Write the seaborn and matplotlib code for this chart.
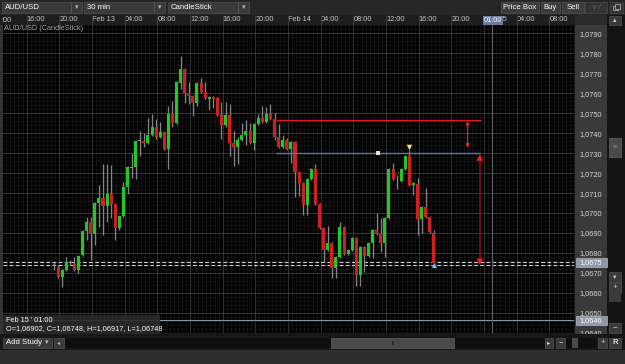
import numpy as np
import pandas as pd
import matplotlib
matplotlib.use("Agg")
import matplotlib.pyplot as plt
import seaborn as sns
from matplotlib.patches import Rectangle

# ---------------- data (AUD/USD, 30 min candles) ----------------
opens = [1.06740, 1.06730, 1.06680, 1.06715, 1.06750, 1.06745, 1.06715, 1.06790, 1.06910, 1.06955,
         1.06895, 1.07050, 1.07075, 1.07035, 1.07095, 1.07045, 1.06925, 1.06985, 1.07130, 1.07230,
         1.07230, 1.07361, 1.07361, 1.07351, 1.07391, 1.07431, 1.07381, 1.07406, 1.07321, 1.07496,
         1.07451, 1.07651, 1.07721, 1.07601, 1.07586, 1.07551, 1.07651, 1.07606, 1.07571, 1.07581,
         1.07576, 1.07491, 1.07441, 1.07491, 1.07351, 1.07331, 1.07366, 1.07391, 1.07411, 1.07351,
         1.07446, 1.07476, 1.07456, 1.07496, 1.07471, 1.07381, 1.07331, 1.07366, 1.07321, 1.07356,
         1.07205, 1.07150, 1.07040, 1.07170, 1.07220, 1.07045, 1.06925, 1.06815, 1.06850, 1.06725,
         1.06780, 1.06930, 1.06795, 1.06815, 1.06875, 1.06690, 1.06830, 1.06785, 1.06850, 1.06915,
         1.06895, 1.06850, 1.06975, 1.07220, 1.07165, 1.07160, 1.07220, 1.07285, 1.07140, 1.07145,
         1.06970, 1.07030, 1.06980, 1.06902]
closes = [1.06738, 1.06680, 1.06715, 1.06755, 1.06750, 1.06715, 1.06785, 1.06910, 1.06955, 1.06895,
          1.07050, 1.07075, 1.07035, 1.07095, 1.07045, 1.06925, 1.06985, 1.07130, 1.07230, 1.07228,
          1.07361, 1.07361, 1.07351, 1.07391, 1.07431, 1.07381, 1.07406, 1.07321, 1.07496, 1.07451,
          1.07656, 1.07721, 1.07601, 1.07586, 1.07551, 1.07651, 1.07606, 1.07576, 1.07581, 1.07571,
          1.07491, 1.07441, 1.07491, 1.07351, 1.07331, 1.07366, 1.07391, 1.07411, 1.07351, 1.07446,
          1.07476, 1.07456, 1.07496, 1.07471, 1.07381, 1.07331, 1.07366, 1.07321, 1.07356, 1.07205,
          1.07150, 1.07040, 1.07170, 1.07220, 1.07045, 1.06925, 1.06815, 1.06850, 1.06725, 1.06780,
          1.06930, 1.06795, 1.06815, 1.06875, 1.06690, 1.06830, 1.06785, 1.06850, 1.06915, 1.06895,
          1.06850, 1.06975, 1.07220, 1.07170, 1.07163, 1.07220, 1.07285, 1.07140, 1.07150, 1.06970,
          1.07030, 1.06980, 1.06905, 1.06748]
highs = [1.06755, 1.06740, 1.06720, 1.06780, 1.06765, 1.06780, 1.06790, 1.06915, 1.06980, 1.06980,
         1.07055, 1.07140, 1.07245, 1.07245, 1.07240, 1.07050, 1.06990, 1.07155, 1.07235, 1.07301,
         1.07365, 1.07411, 1.07401, 1.07476, 1.07496, 1.07471, 1.07456, 1.07410, 1.07536, 1.07561,
         1.07660, 1.07786, 1.07725, 1.07656, 1.07590, 1.07655, 1.07676, 1.07656, 1.07585, 1.07585,
         1.07580, 1.07556, 1.07556, 1.07546, 1.07411, 1.07381, 1.07451, 1.07466, 1.07451, 1.07450,
         1.07496, 1.07536, 1.07531, 1.07546, 1.07501, 1.07446, 1.07391, 1.07376, 1.07360, 1.07360,
         1.07210, 1.07155, 1.07175, 1.07225, 1.07245, 1.07050, 1.06930, 1.06935, 1.06855, 1.06785,
         1.06955, 1.06935, 1.06820, 1.06880, 1.06880, 1.06835, 1.06835, 1.06855, 1.06920, 1.07000,
         1.06975, 1.06980, 1.07225, 1.07250, 1.07190, 1.07225, 1.07290, 1.07316, 1.07155, 1.07175,
         1.07035, 1.07125, 1.06985, 1.06917]
lows = [1.06715, 1.06675, 1.06630, 1.06710, 1.06740, 1.06710, 1.06700, 1.06785, 1.06865, 1.06765,
        1.06840, 1.06930, 1.06890, 1.06955, 1.06975, 1.06865, 1.06915, 1.06980, 1.07095, 1.07175,
        1.07170, 1.07285, 1.07331, 1.07345, 1.07386, 1.07371, 1.07376, 1.07316, 1.07220, 1.07431,
        1.07445, 1.07621, 1.07551, 1.07546, 1.07486, 1.07536, 1.07600, 1.07570, 1.07516, 1.07526,
        1.07486, 1.07371, 1.07431, 1.07285, 1.07235, 1.07245, 1.07360, 1.07341, 1.07345, 1.07316,
        1.07440, 1.07450, 1.07450, 1.07466, 1.07366, 1.07326, 1.07326, 1.07316, 1.07250, 1.07080,
        1.07085, 1.06990, 1.06990, 1.07165, 1.07040, 1.06920, 1.06755, 1.06810, 1.06675, 1.06675,
        1.06775, 1.06790, 1.06790, 1.06810, 1.06635, 1.06635, 1.06705, 1.06780, 1.06775, 1.06890,
        1.06805, 1.06780, 1.06970, 1.07165, 1.07120, 1.07155, 1.07215, 1.07135, 1.07090, 1.06890,
        1.06900, 1.06975, 1.06900, 1.06748]

time_pos = [-6.7, 1.3, 9.3, 17.3, 25.3, 33.3, 41.3, 49.3, 57.3, 65.3, 73.3, 81.3, 89.3, 97.3, 105.3, 113.3, 121.3]
time_labels = ["16:00", "20:00", "Feb 13", "04:00", "08:00", "12:00", "16:00", "20:00", "Feb 14",
               "04:00", "08:00", "12:00", "16:00", "20:00", "Feb 15", "04:00", "08:00"]
price_ticks = [1.0640, 1.0650, 1.0660, 1.0670, 1.0680, 1.0690, 1.0700, 1.0710,
               1.0720, 1.0730, 1.0740, 1.0750, 1.0760, 1.0770, 1.0780, 1.0790]
price_labels = ["1,0640", "1,0650", "1,0660", "1,0670", "1,0680", "1,0690", "1,0700", "1,0710",
                "1,0720", "1,0730", "1,0740", "1,0750", "1,0760", "1,0770", "1,0780", "1,0790"]

# drawn objects on the chart
level_prices = [1.07464, 1.07299]          # red and blue horizontal lines
level_start = [54.3, 54.3]
level_end = [104.5, 104.2]
level_colors = ["#e01818", "#5a78a8"]
dashed_levels = [1.06753, 1.06738]
low_line = 1.06462
cursor_idx = 107.2
range_arrow = dict(x=101.25, top=1.07461, bottom=1.07328)
target_arrow = dict(x=104.25, top=1.07278, bottom=1.06756)
square_pt = (79.3, 1.07299)
tri_top = (86.9, 1.07330)
tri_last = (93.0, 1.06738)

# ---------------- style ----------------
sns.set_theme(style="dark")
plt.rcParams['font.family'] = ['Liberation Sans', 'DejaVu Sans']

FS = 5.3
fig = plt.figure(figsize=(6.25, 3.64), dpi=100)
fig.patch.set_facecolor('#1a1a1a')


def pix_axes(z):
    a = fig.add_axes([0, 0, 1, 1], zorder=z)
    a.set_xlim(0, 625)
    a.set_ylim(364, 0)
    a.axis('off')
    a.patch.set_alpha(0)
    return a


def box(a, x, y, w, h, fc, ec='none', lw=0.6, alpha=1.0):
    a.add_patch(Rectangle((x, y), w, h, facecolor=fc, edgecolor=ec, lw=lw, alpha=alpha))


def txt(a, x, y, s, color='white', size=FS, ha='left', **kw):
    a.text(x, y, s, color=color, fontsize=size, ha=ha, va='center', **kw)


ui = pix_axes(0)
# toolbar
box(ui, 0, 0, 625, 15, '#262626')
for (x, w, label) in [(2, 80, "AUD/USD"), (84, 81, "30 min"), (168, 81, "CandleStick")]:
    box(ui, x, 2, w, 11, '#3a3a3a', ec='#4a4a4a')
    box(ui, x + w - 11, 2.5, 0.6, 10, '#555555')
    txt(ui, x + 3, 7.8, label, size=5.6)
    txt(ui, x + w - 5.5, 7.5, "▾", size=5, ha='center', color='#bbbbbb')
for (x, w, label) in [(501, 38, "Price Box"), (541, 19, "Buy"), (562, 22, "Sell")]:
    box(ui, x, 2, w, 11, '#3c3c3c', ec='#4e4e4e')
    txt(ui, x + w / 2, 7.8, label, size=5.6, ha='center')
box(ui, 585, 2, 22, 11, '#333333', ec='#444444')
txt(ui, 596, 7.8, "⋎ ⁄", size=5, ha='center', color='#777777')
box(ui, 610, 2, 13, 11, '#333333', ec='#444444')
box(ui, 613, 5.5, 5, 4.5, 'none', ec='#aaaaaa', lw=0.6)
box(ui, 615, 4, 5, 4.5, '#333333', ec='#aaaaaa', lw=0.6)
# time header
box(ui, 0, 15, 575, 10, '#1e1e1e')
box(ui, 575, 15, 33, 10, '#2c2c2c')
txt(ui, 1, 20, ":00", color='#c8c8c8')
# left border & price panel
box(ui, 0, 25, 3, 309, '#333333')
box(ui, 575, 25, 33, 309, '#3a3a3a')
# right scroll column
box(ui, 607, 15, 18, 335, '#141414')
for (y, h, s) in [(16, 9, "▲"), (272, 10, "▼"), (283, 10, "+"), (323, 10, "−")]:
    box(ui, 609, y, 12, h, '#3a3a3a', ec='#4a4a4a')
    txt(ui, 615, y + h / 2, s, size=4 if s in "▲▼" else 6, ha='center', color='#cccccc')
box(ui, 609, 138, 12, 19, '#4a4a4a', ec='#5a5a5a')
txt(ui, 615, 147.5, "≡", size=5, ha='center', color='#888888')
box(ui, 609, 293, 12, 9, '#3a3a3a')

# ---------------- main chart ----------------
ax = fig.add_axes([3 / 625, 31 / 364, 571 / 625, 308 / 364], zorder=1)
ax.set_facecolor('black')
for sp in ax.spines.values():
    sp.set_visible(False)

df = pd.DataFrame(dict(open=opens, close=closes, high=highs, low=lows))
df['i'] = np.arange(len(df))
diff = df['close'] - df['open']
df['color'] = np.where(diff.abs() < 0.00003, '#9a9a9a', np.where(diff > 0, '#22c822', '#d01f1f'))
df['bottom'] = df[['open', 'close']].min(axis=1)
df['height'] = diff.abs().clip(lower=0.00004)

ax.set_xlim(-12.48, 127.26)
ax.set_ylim(1.06399, 1.07942)

# grid
ax.set_xticks(time_pos)
ax.set_xticklabels(time_labels)
ax.set_xticks(np.arange(-12, 128) + 0.3, minor=True)
ax.set_yticks(price_ticks)
ax.set_yticklabels(price_labels)
ax.set_yticks(np.arange(1.0640, 1.0796, 0.0002), minor=True)
ax.grid(which='major', color='#343434', lw=0.8)
ax.grid(which='minor', color='#181818', lw=0.5)
ax.xaxis.tick_top()
ax.yaxis.tick_right()
ax.tick_params(axis='x', which='both', length=0, pad=1.6, labelsize=FS, labelcolor='#c8c8c8')
ax.tick_params(axis='y', which='both', length=0, pad=4.2, labelsize=FS, labelcolor='#d8d8d8')
for lab in ax.get_xticklabels():
    lab.set_horizontalalignment('left')
ax.vlines(time_pos, 1.07942, 1.07942 + 0.0005, color='#3c3c3c', lw=0.8, clip_on=False)

# candles
ax.vlines(df['i'], df['low'], df['high'], color='#858585', lw=0.9, zorder=3)
ax.bar(df['i'], df['height'], bottom=df['bottom'], width=0.74, color=df['color'],
       edgecolor='none', zorder=4)

# drawn tools
for p, a0, a1, c in zip(level_prices, level_start, level_end, level_colors):
    ax.hlines(p, a0, a1, color=c, lw=1.0, zorder=5)
for p in dashed_levels:
    ax.axhline(p, color='#cfcfcf', lw=0.8, dashes=(3.5, 2), zorder=2)
ax.axhline(low_line, color='#8796ab', lw=0.8, zorder=2)
ax.axvline(cursor_idx, color='#606060', lw=0.8, zorder=2)

ax.annotate('', xy=(range_arrow['x'], range_arrow['bottom']), xytext=(range_arrow['x'], range_arrow['top']),
            arrowprops=dict(arrowstyle='<|-|>', color='#ff2020', lw=0.8, mutation_scale=5,
                            shrinkA=0, shrinkB=0), zorder=6)
ax.vlines(target_arrow['x'], target_arrow['bottom'], target_arrow['top'], color='#7a0c0c', lw=1.4, zorder=5)
arrows = pd.DataFrame(dict(x=[target_arrow['x'], target_arrow['x']],
                           y=[target_arrow['top'], target_arrow['bottom']],
                           kind=['up', 'down']))
sns.scatterplot(data=arrows, x='x', y='y', style='kind', markers={'up': '^', 'down': 'v'},
                color='#ff1818', s=22, linewidth=0, legend=False, ax=ax, zorder=6)
sns.scatterplot(x=[square_pt[0]], y=[square_pt[1]], marker='s', color='#f3e6b4', s=9,
                linewidth=0, ax=ax, zorder=6)
sns.scatterplot(x=[tri_top[0]], y=[tri_top[1]], marker='v', color='#f0dc9a', s=16,
                linewidth=0, ax=ax, zorder=6)
sns.scatterplot(x=[tri_last[0]], y=[tri_last[1]], marker='^', color='#5cc8f0', s=14,
                linewidth=0, ax=ax, zorder=6)
ax.set_xlabel('')
ax.set_ylabel('')

# ---------------- foreground overlays ----------------
fg = pix_axes(3)
txt(fg, 4, 29, "AUD/USD (CandleStick)", color='#a8a8a8')
# tooltip
box(fg, 3, 315, 157, 19, '#2a2a2a', alpha=0.9)
txt(fg, 6, 320, "Feb 15 ' 01:00")
txt(fg, 6, 329, "O=1,06902, C=1,06748, H=1,06917, L=1,06748")
# header highlight
box(fg, 483, 15.5, 19.5, 9, '#6a7c98')
txt(fg, 492.7, 20, "01:00", ha='center')
# price boxes
box(fg, 575.5, 257.5, 31, 9.5, '#8c99ab', ec='#b0b8c4', lw=0.5)
txt(fg, 591, 262.3, "1,0675", ha='center')
box(fg, 575.5, 315.5, 31, 9.5, '#8c99ab', ec='#b0b8c4', lw=0.5)
txt(fg, 591, 320.3, "1,0646", ha='center')
# bottom bar
box(fg, 0, 334, 607, 16, '#171717')
box(fg, 0, 350, 625, 14, '#2e2e2e')
box(fg, 3, 337.5, 49, 10.5, '#3a3a3a', ec='#4a4a4a')
txt(fg, 5.5, 342.8, "Add Study", size=5.6)
box(fg, 42.5, 338, 0.6, 9.5, '#555555')
txt(fg, 47, 342.5, "▾", size=5, ha='center', color='#bbbbbb')
box(fg, 54, 337.5, 10, 10.5, '#3a3a3a', ec='#4a4a4a')
txt(fg, 59, 342.7, "◂", size=4.5, ha='center', color='#bbbbbb')
box(fg, 65, 337.5, 480, 10.5, '#0e0e0e')
box(fg, 331, 337.5, 123, 10.5, '#4a4a4a', ec='#585858')
box(fg, 391.5, 341, 2, 4, '#2e2e2e')
for (x, w, s) in [(545, 8, "▸"), (556, 9, "−"), (598, 9, "+"), (609, 12, "R")]:
    box(fg, x, 337.5, w, 10.5, '#3a3a3a', ec='#4a4a4a')
    txt(fg, x + w / 2, 342.8, s, size=5.5 if s != "▸" else 4.5, ha='center',
        color='#dddddd', fontweight='bold' if s == "R" else 'normal')
box(fg, 566, 337.5, 30, 10.5, '#0e0e0e')
box(fg, 572, 337.5, 6, 10.5, '#4a4a4a')

fig.savefig('out.png', dpi=100, facecolor=fig.get_facecolor())
